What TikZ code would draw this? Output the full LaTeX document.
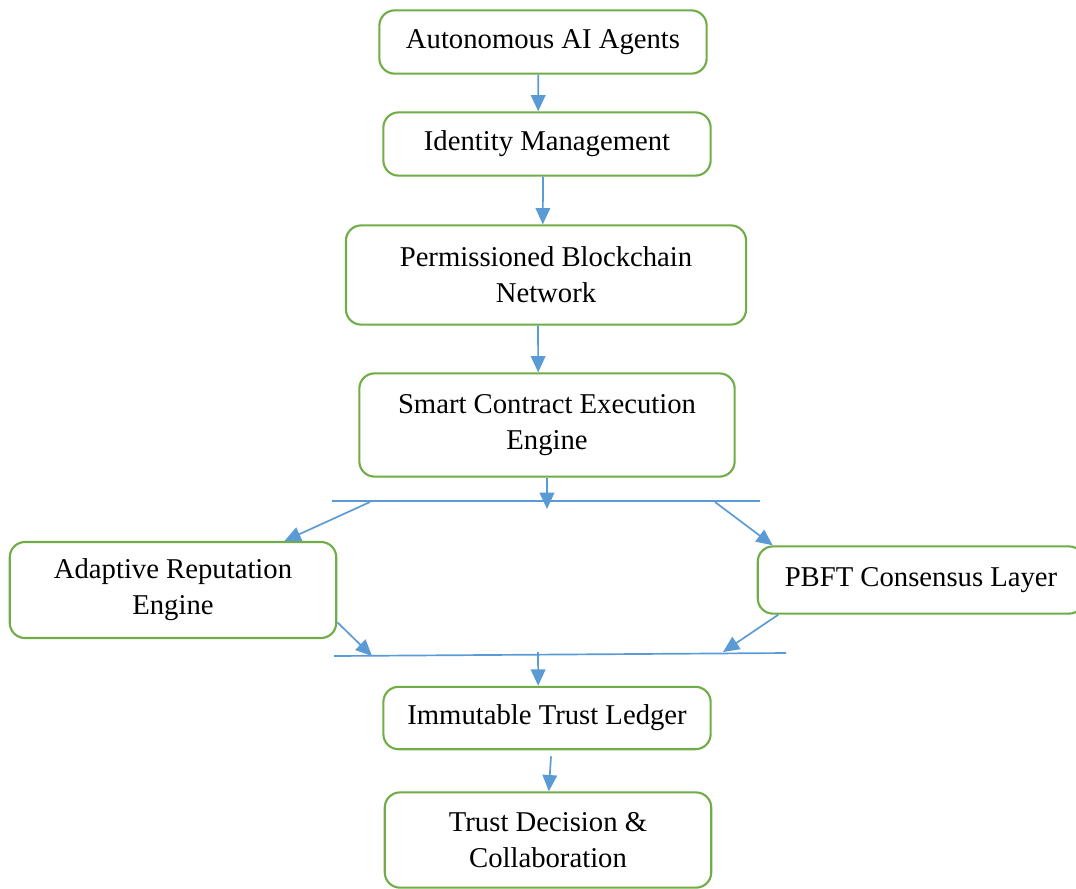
\documentclass[tikz,border=0pt]{standalone}
\usepackage{fontspec}
\setmainfont{Liberation Serif}
\usetikzlibrary{arrows.meta}

\definecolor{boxgreen}{HTML}{70AD47}
\definecolor{flowblue}{HTML}{5B9BD5}

\tikzset{
    block/.style={draw=boxgreen, line width=0.75pt, rounded corners=0.19cm,
        fill=white, align=center, inner sep=0pt,
        font=\fontsize{10.2}{12.8}\selectfont},
    flow/.style={draw=flowblue, line width=0.6pt,
        -{Triangle[length=5.8pt,width=5.2pt]}},
    bar/.style={draw=flowblue, line width=0.6pt}
}

\begin{document}
\begin{tikzpicture}[x=0.0125cm, y=-0.0125cm]
    \useasboundingbox (0,0) rectangle (1076,888);
    % main column
    \node[block, minimum width=4.09cm, minimum height=0.79cm] (agents) at (543,42) {Autonomous AI Agents};
    \node[block, minimum width=4.09cm, minimum height=0.79cm] (identity) at (547,144) {Identity Management};
    \node[block, minimum width=5.0cm, minimum height=1.24cm] (chain) at (546,275) {Permissioned Blockchain\\Network};
    \node[block, minimum width=4.69cm, minimum height=1.29cm] (contract) at (547,425) {Smart Contract Execution\\Engine};
    % side branches
    \node[block, minimum width=4.08cm, minimum height=1.2cm] (reputation) at (173,590) {Adaptive Reputation\\Engine};
    \node[block, minimum width=4.08cm, minimum height=0.84cm] (pbft) at (921,580) {PBFT Consensus Layer};
    \node[block, minimum width=4.09cm, minimum height=0.78cm] (ledger) at (547,718) {Immutable Trust Ledger};
    \node[block, minimum width=4.08cm, minimum height=1.19cm] (decision) at (548,840) {Trust Decision \&\\Collaboration};

    % split and join bars
    \coordinate (splitL) at (332,501);
    \coordinate (splitR) at (760,501);
    \coordinate (splitA) at (370,502);
    \coordinate (splitB) at (715,502);
    \coordinate (splitM) at (547,509);
    \coordinate (joinL) at (334,656);
    \coordinate (joinR) at (786,653);
    \coordinate (joinA) at (372,656);
    \coordinate (joinB) at (723,652);
    \coordinate (joinM) at (538,652);
    \draw[bar] (splitL) -- (splitR);
    \draw[bar] (joinL) -- (joinR);

    \draw[flow] ([xshift=-0.06cm]agents.south) -- ([xshift=-0.11cm]identity.north);
    \draw[flow] ([xshift=-0.05cm]identity.south) -- ([xshift=-0.04cm]chain.north);
    \draw[flow] ([xshift=-0.1cm]chain.south) -- ([xshift=-0.11cm]contract.north);
    \draw[flow] (contract.south) -- (splitM);
    \draw[flow] (splitA) -- ([xshift=-0.66cm]reputation.north east);
    \draw[flow] (splitB) -- ([xshift=0.2cm]pbft.north west);
    \draw[flow] ([yshift=0.21cm]reputation.south east) -- (joinA);
    \draw[flow] ([xshift=0.27cm]pbft.south west) -- (joinB);
    \draw[flow] (joinM) -- ([xshift=-0.11cm]ledger.north);
    \draw[flow] ([xshift=0.05cm,yshift=-0.075cm]ledger.south) -- ([xshift=0.01cm]decision.north);
\end{tikzpicture}
\end{document}
